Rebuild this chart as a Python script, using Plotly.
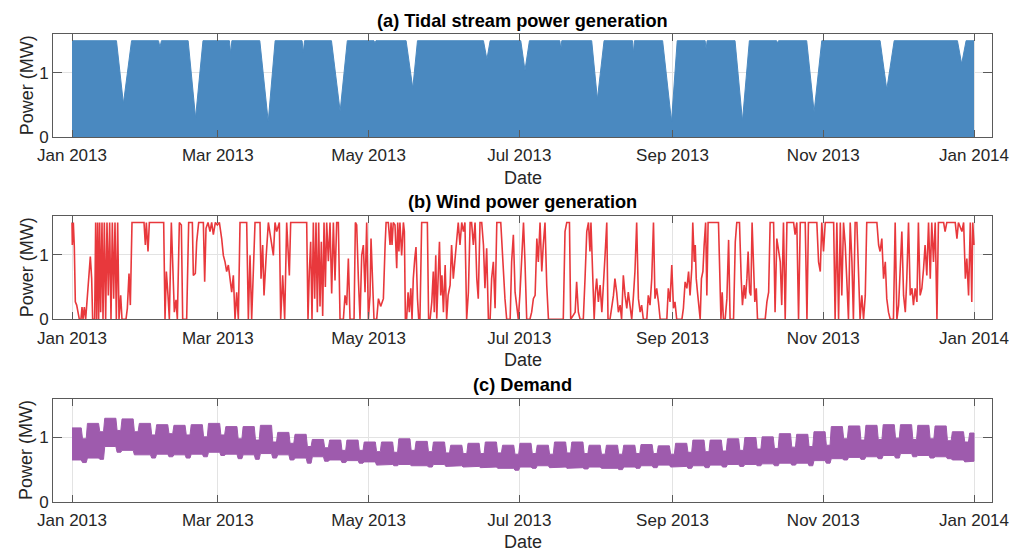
import pandas as pd
import plotly.graph_objects as go

# ---------------- data (days since 2013-01-01, power in MW) ----------------
T0 = pd.Timestamp("2013-01-01")

# (a) tidal stream: upper envelope of the hourly generation
tidal_days = [0, 18.0, 20.8, 24.1, 35.0, 35.6, 36.2, 47.0, 50.0, 53.0, 63.7, 64.2, 64.7,
              76.0, 79.4, 82.2, 93.1, 93.6, 94.1, 105.0, 108.5, 111.4, 122.2, 122.6, 123.0,
              135.2, 137.9, 139.8, 166.5, 167.9, 169.2, 181.6, 183.3, 185.1, 197.4, 197.8,
              198.2, 210.3, 212.6, 215.3, 226.8, 227.2, 227.6, 239.0, 242.6, 244.9, 256.2,
              256.6, 257.0, 268.3, 271.3, 274.1, 285.1, 285.5, 285.9, 297.3, 300.3, 303.4,
              327.0, 329.7, 332.7, 358.3, 360.0, 361.8, 365.0]
tidal_mw = [1.5, 1.5, 0.52, 1.5, 1.5, 1.40, 1.5, 1.5, 0.30, 1.5, 1.5, 1.30, 1.5,
            1.5, 0.24, 1.5, 1.5, 1.32, 1.5, 1.5, 0.40, 1.5, 1.5, 1.46, 1.5,
            1.5, 0.76, 1.5, 1.5, 1.21, 1.5, 1.5, 1.04, 1.5, 1.5, 1.37,
            1.5, 1.5, 0.59, 1.5, 1.5, 1.31, 1.5, 1.5, 0.24, 1.5, 1.5,
            1.37, 1.5, 1.5, 0.25, 1.5, 1.5, 1.46, 1.5, 1.5, 0.39, 1.5,
            1.5, 0.74, 1.5, 1.5, 1.14, 1.5, 1.5]

# (b) wind power
wind_days = [0.0, 0.13, 0.54, 0.94, 1.35, 1.89, 2.43, 2.97, 3.64, 4.05, 4.45, 4.99, 5.53, 6.21,
             6.88, 7.42, 7.96, 8.36, 9.17, 9.58, 9.98, 10.39, 10.79, 11.20, 11.60, 12.14, 12.55,
             13.09, 13.62, 14.16, 14.70, 15.24, 15.78, 16.32, 16.86, 17.40, 17.94, 18.48, 19.02,
             19.70, 20.23, 21.85, 22.39, 23.07, 23.61, 24.28, 29.14, 29.68, 30.08, 30.76, 31.30,
             37.10, 37.64, 38.18, 38.85, 39.39, 40.20, 40.74, 41.41, 42.09, 42.63, 43.44, 44.25,
             44.79, 46.40, 47.21, 48.70, 49.10, 49.91, 50.45, 51.26, 53.15, 53.69, 54.23, 55.04,
             55.85, 56.52, 57.20, 58.01, 58.82, 59.63, 60.57, 61.24, 61.92, 62.59, 63.27, 63.94,
             64.62, 65.29, 65.97, 66.64, 67.31, 67.99, 70.69, 71.36, 72.04, 72.71, 74.06, 76.08,
             76.49, 77.16, 77.70, 78.51, 79.46, 81.48, 82.15, 82.83, 83.91, 84.45, 85.25, 86.06,
             86.87, 87.95, 88.49, 94.97, 95.50, 96.04, 96.58, 97.12, 97.66, 98.20, 98.74, 99.28,
             99.82, 100.36, 100.90, 101.44, 101.98, 102.52, 103.06, 103.74, 104.41, 105.08,
             105.76, 106.43, 107.11, 107.78, 108.46, 109.81, 110.48, 111.16, 111.83, 112.51,
             114.13, 114.67, 115.20, 115.88, 116.55, 117.23, 117.90, 118.58, 119.25, 119.93,
             120.6, 121.0, 121.4, 121.8, 122.2, 123.3, 124.0, 124.9, 126.0, 126.7, 127.1, 128.0,
             128.7, 129.1, 129.5, 130.0, 130.7, 131.4, 131.8, 132.3, 132.7, 133.4, 134.1, 134.5,
             134.9, 135.4, 136.0, 136.5, 137.1, 137.6, 138.1, 138.7, 139.2, 139.8, 140.3, 140.8,
             141.5, 143.8, 144.3, 144.9, 145.6, 146.2, 146.6, 147.2, 147.6, 148.1, 148.7, 149.2,
             149.7, 150.3, 151.0, 151.6, 152.2, 153.0, 153.6, 154.3, 155.0, 155.7, 156.3, 157.0,
             157.7, 158.4, 159.0, 159.7, 160.4, 161.1, 161.7, 162.4, 163.1, 163.8, 164.4, 165.1,
             165.8, 166.5, 167.1, 167.8, 168.5, 169.2, 169.8, 170.5, 171.2, 171.9, 173.5, 174.0,
             174.6, 175.2, 175.9, 177.3, 177.9, 178.6, 179.3, 179.9, 180.6, 181.3, 182.0, 182.7,
             183.3, 184.0, 185.3, 186.0, 186.7, 187.4, 188.1, 188.7, 189.4, 190.1, 190.7, 191.4,
             192.1, 192.8, 198.8, 199.5, 200.2, 201.3, 201.8, 203.6, 204.2, 204.9, 205.6, 206.9,
             207.6, 208.3, 209.0, 209.6, 210.0, 210.7, 211.3, 211.8, 212.3, 213.0, 213.7, 214.4,
             215.0, 215.7, 216.4, 216.9, 217.7, 218.4, 219.1, 219.7, 220.4, 221.1, 221.8, 222.4,
             223.1, 223.8, 224.5, 225.1, 225.8, 226.5, 227.2, 227.8, 228.5, 229.2, 229.9, 230.5,
             231.2, 232.6, 233.2, 233.9, 234.6, 235.3, 235.9, 236.6, 237.3, 238.0, 240.7, 241.3,
             242.0, 242.7, 243.4, 244.0, 244.7, 246.1, 246.8, 247.4, 248.1, 248.8, 249.5, 250.1,
             250.8, 251.2, 251.8, 252.2, 252.6, 253.1, 253.7, 254.2, 254.7, 255.3, 255.8, 256.4,
             256.9, 257.4, 261.6, 262.0, 262.6, 263.1, 263.6, 264.3, 265.0, 265.7, 266.3, 267.7,
             268.4, 269.0, 270.1, 270.8, 271.3, 272.0, 272.5, 273.1, 273.6, 274.2, 274.7, 275.2,
             275.8, 276.3, 276.9, 277.4, 280.5, 281.2, 281.9, 282.5, 283.9, 284.5, 285.2, 285.9,
             286.6, 287.2, 287.9, 288.6, 289.3, 292.0, 292.6, 293.3, 294.0, 294.7, 296.7, 297.4,
             298.0, 301.4, 302.1, 302.8, 303.4, 304.1, 304.8, 308.2, 308.8, 309.5, 310.2, 310.9,
             311.5, 312.2, 312.9, 313.5, 314.2, 314.9, 315.6, 316.2, 316.9, 317.6, 318.3, 318.9,
             319.6, 320.3, 321.0, 321.6, 325.7, 326.4, 327.0, 327.7, 328.4, 329.1, 329.7, 330.4,
             331.1, 332.4, 333.1, 333.8, 334.5, 335.1, 335.8, 336.5, 337.2, 337.8, 338.5, 339.2,
             339.9, 340.5, 341.2, 341.9, 342.5, 343.2, 343.9, 344.6, 345.2, 345.9, 346.6, 347.3,
             347.9, 348.6, 349.3, 350.0, 350.6, 352.7, 353.3, 354.0, 357.4, 358.1, 358.7, 360.1,
             360.8, 361.5, 362.1, 362.8, 363.5, 364.1, 364.5, 365.0]
wind_mw = [1.5, 1.15, 1.5, 1.12, 0.27, 0.22, 0.11, 0, 0, 0.19, 0, 0.19, 0, 0.32,
           0.60, 0.97, 0.63, 0, 0, 1.5, 0, 1.5, 0, 1.5, 0.11, 1.5, 0,
           1.5, 0, 1.5, 0.37, 1.5, 0, 1.5, 0.32, 1.5, 0, 1.5, 0,
           0.37, 0, 0, 0.17, 0.71, 0.22, 1.5, 1.5, 1.15, 1.5, 1.05, 1.5,
           1.5, 0, 0.74, 0.37, 0, 1.5, 0.74, 0.11, 0.30, 0, 1.5, 1.46,
           0, 0, 1.5, 1.5, 0.68, 0.71, 1.20, 1.5, 1.5, 0.58, 1.41, 1.5,
           1.36, 1.5, 1.31, 1.5, 1.46, 1.5, 1.25, 0.99, 0.89, 0.74, 0.84, 0.63,
           0.42, 0.68, 0, 0.42, 0, 1.5, 1.5, 0, 0.99, 0, 1.5, 1.5,
           0.63, 1.15, 0.37, 0.94, 1.5, 0.99, 1.5, 1.36, 1.5, 0, 0.68, 0,
           1.5, 0.68, 1.5, 1.5, 0, 0.74, 1.20, 0, 1.5, 0.32, 1.5, 0.11,
           1.5, 0.20, 1.20, 0.05, 1.5, 0.50, 1.5, 0.90, 1.5, 0.40,
           1.5, 0.60, 1.5, 1.5, 0, 0, 0.37, 0.22, 0.94, 0,
           0, 1.5, 1.46, 0.63, 0, 0.99, 1.15, 0.42, 1.5, 0,
           0.37, 1.25, 0.74, 0.48, 0, 0, 0.32, 0.20, 0.32, 1.15, 1.5, 1.5,
           1.15, 1.5, 1.15, 1.5, 1.46, 0.79, 1.5, 1.05, 1.5, 0.99, 1.5, 1.36,
           0, 0, 0.42, 0.11, 0.48, 0, 0.63, 0.94, 1.12, 0.32, 0, 0,
           1.5, 1.5, 0, 0, 0.27, 0.74, 0.11, 0.99, 0.01, 0.58, 1.20, 0.37,
           0.68, 0.11, 0.84, 0, 0.37, 0.53, 1.15, 0.63, 0.94, 1.36, 1.5, 1.15,
           1.5, 1.36, 1.5, 0, 0.42, 1.5, 1.5, 1.15, 1.5, 0.63, 0.32, 1.5,
           1.5, 1.15, 0.48, 1.10, 0, 0, 0.63, 0.89, 0.17, 1.5, 1.5, 1.15,
           0.63, 0.32, 0, 0, 0.89, 1.31, 0.42, 0.22, 0, 0.42, 0.99, 1.5,
           0.89, 0, 0, 0.11, 0.32, 0.37, 1.25, 0.89, 1.5, 0.74, 1.15, 1.5,
           0.53, 0, 0, 1.36, 1.5, 1.5, 0, 0.11, 0.58, 0.11, 0, 0,
           0.63, 1.36, 1.5, 1.05, 1.5, 0.63, 0, 0.42, 0.63, 0.27, 0.53, 0.11,
           0.63, 0.99, 1.5, 0, 0, 0.17, 0.37, 0.63, 0.42, 0.11, 0.22, 0,
           0.68, 0.37, 0.17, 0.42, 0.22, 0, 0.37, 0.74, 1.5, 0.32, 0.11, 0.22,
           0, 0, 0.37, 0.22, 0.63, 1.5, 0.32, 0.48, 0.27, 0, 0, 0.48,
           0.27, 0.84, 0.17, 0.27, 0, 0, 0, 0.17, 0.58, 0.48, 0.74, 0.37,
           0.79, 1.5, 0.89, 1.15, 0.63, 0.42, 0.11, 0, 0.63, 0.74, 1.15, 1.5,
           0.37, 1.5, 1.5, 0.99, 0, 0.42, 0, 0, 0.32, 1.23, 0, 0,
           1.20, 1.5, 1.5, 0.63, 0.22, 0.53, 0.32, 0.63, 1.05, 0.42, 0.37, 1.5,
           0.63, 0.27, 0.48, 0, 0, 0.27, 0.42, 1.5, 1.5, 0.11, 1.25, 1.05,
           0.89, 0.22, 1.5, 0, 1.5, 1.5, 1.31, 1.5, 0, 1.5, 1.5, 0,
           1.5, 1.5, 0.89, 0.74, 1.5, 1.05, 1.5, 1.5, 0, 1.5, 0, 1.5,
           0.37, 1.5, 1.15, 0.63, 0, 1.5, 0.89, 0, 1.5, 1.5, 0.63, 0,
           0.37, 0, 0.37, 1.5, 1.5, 1.15, 1.05, 1.25, 0.63, 0.89, 0.32, 0.11,
           0, 0, 1.5, 0, 0.22, 0.84, 1.36, 0.37, 0.11, 0.63, 1.5, 0.37,
           0.48, 0.22, 0.48, 0.27, 1.5, 0.37, 0.48, 0.79, 1.15, 0.68, 1.5, 0.63,
           1.5, 0.89, 1.5, 0, 1.5, 1.5, 1.36, 1.5, 1.5, 1.25, 1.5, 1.36,
           1.5, 0.63, 0.94, 0.37, 1.5, 0.27, 1.5, 1.15]

# (c) demand: weekly envelope (weeks start on Mondays, first = 2012-12-31)
week_start = pd.date_range("2012-12-31", periods=53, freq="7D")
weekday_high = [1.15, 1.22, 1.30, 1.29, 1.22, 1.20, 1.19, 1.20, 1.22, 1.17, 1.17, 1.19, 1.08,
                1.05, 0.97, 0.96, 0.96, 0.93, 0.93, 0.98, 0.94, 0.93, 0.88, 0.91, 0.93, 0.88,
                0.91, 0.88, 0.93, 0.93, 0.88, 0.88, 0.88, 0.89, 0.87, 0.91, 0.96, 0.96, 0.98,
                1.00, 1.01, 1.06, 1.05, 1.09, 1.17, 1.18, 1.19, 1.20, 1.20, 1.19, 1.18, 1.09, 1.07]
weekend_high = [0.98, 1.09, 1.11, 1.09, 1.04, 1.06, 1.04, 1.01, 1.04, 0.98, 0.96, 0.93, 0.91,
                0.86, 0.84, 0.80, 0.80, 0.78, 0.77, 0.80, 0.78, 0.76, 0.75, 0.75, 0.76, 0.74,
                0.75, 0.74, 0.76, 0.75, 0.74, 0.74, 0.75, 0.75, 0.74, 0.77, 0.78, 0.79, 0.80,
                0.82, 0.83, 0.85, 0.86, 0.88, 0.98, 0.96, 0.97, 0.99, 0.97, 0.98, 0.95, 0.93, 0.95]
weekday_low = [0.65, 0.68, 0.86, 0.80, 0.73, 0.74, 0.73, 0.74, 0.77, 0.74, 0.73, 0.75, 0.73,
               0.68, 0.70, 0.65, 0.64, 0.62, 0.58, 0.58, 0.56, 0.58, 0.56, 0.55, 0.54, 0.52,
               0.54, 0.56, 0.54, 0.53, 0.54, 0.52, 0.54, 0.56, 0.57, 0.55, 0.56, 0.57, 0.58,
               0.58, 0.59, 0.60, 0.60, 0.64, 0.67, 0.69, 0.70, 0.72, 0.75, 0.72, 0.70, 0.65, 0.63]
weekend_low = [0.61, 0.66, 0.77, 0.73, 0.68, 0.70, 0.68, 0.70, 0.72, 0.67, 0.66, 0.68, 0.65,
               0.60, 0.63, 0.61, 0.60, 0.57, 0.56, 0.56, 0.54, 0.55, 0.54, 0.53, 0.52, 0.49,
               0.52, 0.53, 0.52, 0.51, 0.52, 0.50, 0.52, 0.53, 0.54, 0.52, 0.53, 0.54, 0.55,
               0.56, 0.56, 0.57, 0.56, 0.60, 0.65, 0.66, 0.67, 0.68, 0.70, 0.68, 0.67, 0.62, 0.62]

panel_titles = ["(a) Tidal stream power generation", "(b) Wind power generation", "(c) Demand"]
y_ticks = [0, 1]
x_ticks = pd.date_range("2013-01-01", "2014-01-01", freq="2MS")

# ---------------- styles ----------------
TIDAL = "#4A89C0"
WIND = "#E8383C"
DEMAND = "#9E5BAD"
AXC = "#5a5a5a"
GRID = "#e3e3e3"
FONT = "Liberation Sans, Arial, sans-serif"
W, H = 1021, 552
X_LO, X_HI = pd.Timestamp("2012-12-24 07:30"), pd.Timestamp("2014-01-08 06:45")
END = pd.Timestamp("2014-01-01")


def to_dt(days):
    return [T0 + pd.Timedelta(days=float(d)) for d in days]


def envelope(hi_wd, hi_we):
    xs, ys = [], []
    for m, a, b in zip(week_start, hi_wd, hi_we):
        for off, v in ((0.25, a), (4.75, a), (5.25, b), (6.75, b)):
            t = m + pd.Timedelta(days=off)
            if T0 <= t <= END:
                xs.append(t)
                ys.append(v)
    xs = [T0] + xs + [END]
    ys = [ys[0]] + ys + [ys[-1]]
    return xs, ys


ux, uy = envelope(weekday_high, weekend_high)
lx, ly = envelope(weekday_low, weekend_low)

fig = go.Figure()
fig.add_trace(go.Scatter(x=to_dt(tidal_days), y=tidal_mw, mode="lines", fill="tozeroy",
                         fillcolor=TIDAL, line=dict(color=TIDAL, width=1),
                         xaxis="x", yaxis="y", showlegend=False, hoverinfo="skip"))
fig.add_trace(go.Scatter(x=to_dt(wind_days), y=wind_mw, mode="lines",
                         line=dict(color=WIND, width=1.6),
                         xaxis="x2", yaxis="y2", showlegend=False))
fig.add_trace(go.Scatter(x=ux + lx[::-1], y=uy + ly[::-1], mode="lines", fill="toself",
                         fillcolor=DEMAND, line=dict(color=DEMAND, width=1),
                         xaxis="x3", yaxis="y3", showlegend=False, hoverinfo="skip"))

# panel geometry in pixels (top, bottom)
panels = [(34.3, 137.0), (216.0, 319.3), (399.0, 501.7)]
x0p, x1p = 53, 992

xa = dict(type="date", range=[X_LO, X_HI], tickvals=list(x_ticks),
          ticktext=[d.strftime("%b %Y") for d in x_ticks], automargin=False,
          showgrid=True, gridcolor=GRID, gridwidth=1,
          showline=True, linecolor=AXC, linewidth=1, mirror="ticks",
          ticks="inside", ticklen=7, tickcolor=AXC, tickwidth=1, ticklabelstandoff=3,
          tickfont=dict(family=FONT, size=17, color="#262626"), zeroline=False)
ya = dict(range=[0, 1.6], tickvals=y_ticks, showgrid=True, gridcolor=GRID, gridwidth=1,
          showline=True, linecolor=AXC, linewidth=1, mirror="ticks", automargin=False,
          ticks="inside", ticklen=9, tickcolor=AXC, tickwidth=1,
          tickfont=dict(family=FONT, size=17, color="#262626"), zeroline=False)

layout = dict(width=W, height=H, margin=dict(l=0, r=0, t=0, b=0, autoexpand=False),
              paper_bgcolor="white", plot_bgcolor="white", showlegend=False)
annotations = []
names = ["", "2", "3"]
title_y = [20.7, 202.3, 385.0]
date_y = [178.3, 360.0, 541.7]
for i, (top, bot) in enumerate(panels):
    n = names[i]
    layout["xaxis" + n] = dict(xa, domain=[x0p / W, x1p / W], anchor="y" + n)
    layout["yaxis" + n] = dict(ya, domain=[1 - bot / H, 1 - top / H], anchor="x" + n)
    annotations.append(dict(text="<b>" + panel_titles[i] + "</b>", x=(x0p + x1p) / 2 / W,
                            y=1 - title_y[i] / H, xref="paper", yref="paper",
                            xanchor="center", yanchor="middle", showarrow=False,
                            font=dict(family=FONT, size=18.2, color="black")))
    annotations.append(dict(text="Date", x=(x0p + x1p) / 2 / W, y=1 - date_y[i] / H,
                            xref="paper", yref="paper", xanchor="center", yanchor="middle",
                            showarrow=False, font=dict(family=FONT, size=18, color="#262626")))
    annotations.append(dict(text="Power (MW)", x=26.7 / W, y=1 - (top + bot) / 2 / H,
                            xref="paper", yref="paper", xanchor="center", yanchor="middle",
                            textangle=-90, showarrow=False,
                            font=dict(family=FONT, size=18, color="#262626")))
layout["annotations"] = annotations
fig.update_layout(**layout)
fig.write_html("out.html", config={"displayModeBar": False},
               post_script="document.body.style.margin='0';document.body.style.overflow='hidden';")
